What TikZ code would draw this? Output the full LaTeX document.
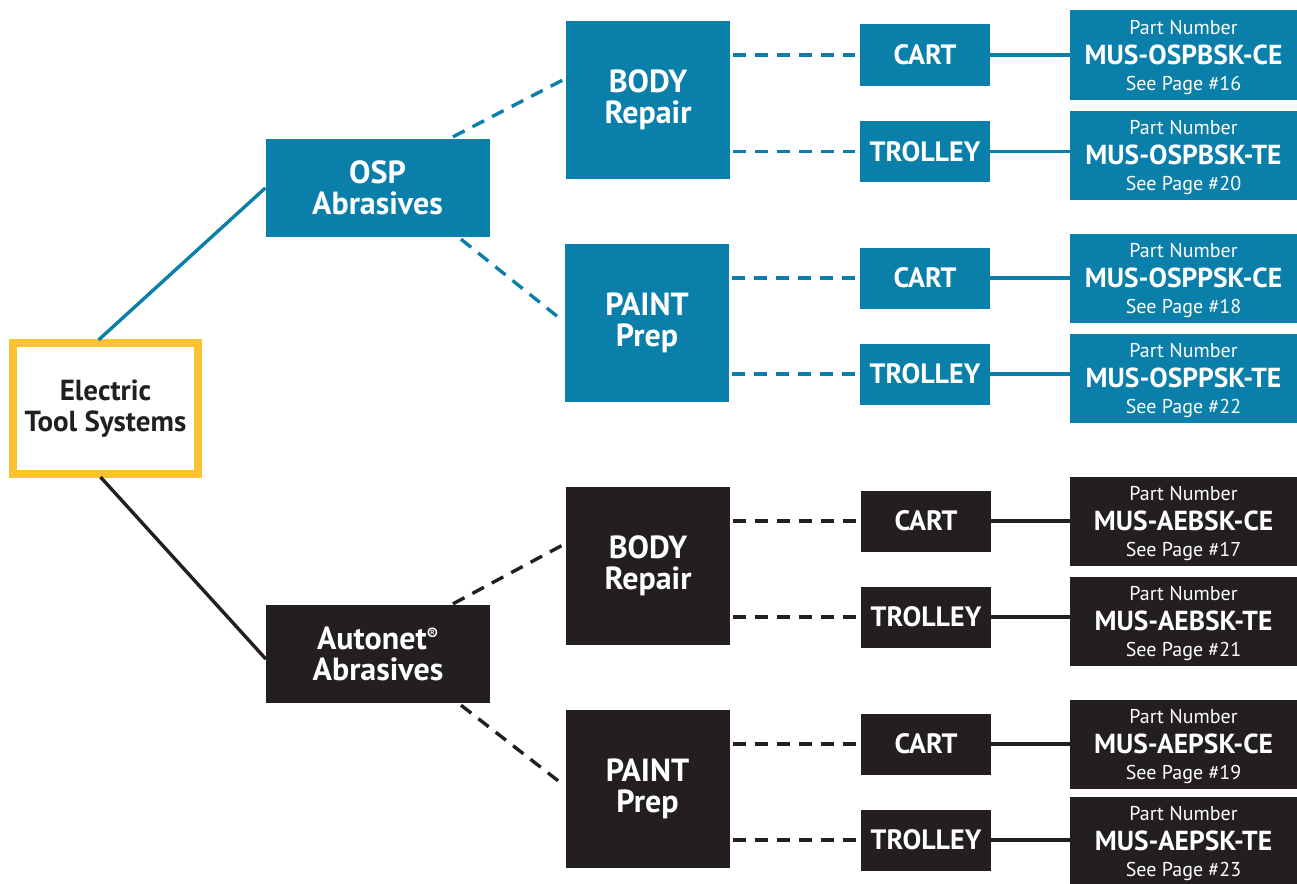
\documentclass[tikz,border=0pt]{standalone}
\usepackage{fontspec}
\setmainfont{PT Sans}
\usetikzlibrary{calc}
\definecolor{ospblue}{HTML}{0A7FAA}
\definecolor{dark}{HTML}{231F20}
\definecolor{gold}{HTML}{FBC232}
\tikzset{
  box/.style={inner sep=0pt, align=center, text=white, font=\bfseries\fontsize{32}{31}\selectfont},
  bluebox/.style={box, fill=ospblue},
  darkbox/.style={box, fill=dark},
  mid/.style={minimum width=164pt, minimum height=158pt},
  top/.style={minimum width=224pt, minimum height=98pt},
  kind/.style={minimum width=130pt, minimum height=61pt, font=\bfseries\fontsize{28}{28}\selectfont},
  part/.style={minimum width=227pt, minimum height=89pt, font=\fontsize{20}{28}\selectfont},
  dashline/.style={line width=3.4pt, dash pattern=on 13pt off 9pt},
  solidline/.style={line width=3.4pt},
}
\newcommand{\partlabel}[2]{\rule{0pt}{19pt}Part Number\\[2pt]{\bfseries\fontsize{27.5}{28}\selectfont #1}\\[-2pt]See Page \##2}
\begin{document}
\begin{tikzpicture}[x=1pt,y=-1pt]
\useasboundingbox (0,0) rectangle (1297,883);
% root
\node[draw=gold, line width=8pt, fill=white, minimum width=185pt, minimum height=131pt, inner sep=0pt, align=center, text=dark, font=\bfseries\fontsize{29}{31}\selectfont] (root) at (105.5,408.5) {Electric\\Tool Systems};
% level 1
\node[bluebox, top] (osp) at (377.5,188) {OSP\\Abrasives};
\node[darkbox, top] (aut) at (378,654) {Autonet\textsuperscript{\fontsize{17}{17}\selectfont ®}\\Abrasives};
% level 2
\node[bluebox, mid] (b1) at (648,100) {BODY\\Repair};
\node[bluebox, mid] (p1) at (647,323) {PAINT\\Prep};
\node[darkbox, mid] (b2) at (648,566) {BODY\\Repair};
\node[darkbox, mid] (p2) at (647.5,789) {PAINT\\Prep};
% level 3
\node[bluebox, kind] (c1) at (925,55) {CART};
\node[bluebox, kind] (t1) at (925,151.5) {TROLLEY};
\node[bluebox, kind] (c2) at (925,278) {CART};
\node[bluebox, kind] (t2) at (925,374) {TROLLEY};
\node[darkbox, kind] (c3) at (926,521) {CART};
\node[darkbox, kind] (t3) at (926,617) {TROLLEY};
\node[darkbox, kind] (c4) at (926,744) {CART};
\node[darkbox, kind] (t4) at (926,840) {TROLLEY};
% part numbers
\node[bluebox, part] (n1) at (1183.5,55) {\partlabel{MUS-OSPBSK-CE}{16}};
\node[bluebox, part] (n2) at (1183.5,155.5) {\partlabel{MUS-OSPBSK-TE}{20}};
\node[bluebox, part] (n3) at (1183.5,278) {\partlabel{MUS-OSPPSK-CE}{18}};
\node[bluebox, part] (n4) at (1183.5,378) {\partlabel{MUS-OSPPSK-TE}{22}};
\node[darkbox, part] (n5) at (1183.5,521.5) {\partlabel{MUS-AEBSK-CE}{17}};
\node[darkbox, part] (n6) at (1183.5,621.5) {\partlabel{MUS-AEBSK-TE}{21}};
\node[darkbox, part] (n7) at (1183.5,744.5) {\partlabel{MUS-AEPSK-CE}{19}};
\node[darkbox, part] (n8) at (1183.5,841) {\partlabel{MUS-AEPSK-TE}{23}};
% root connectors
\draw[solidline, ospblue] ([xshift=-7pt,yshift=-1pt]root.north) -- (osp.west);
\draw[solidline, dark] ([xshift=-5pt,yshift=1pt]root.south) -- ([yshift=-5pt]aut.west);
% level1 -> level2
\draw[dashline, ospblue] ([xshift=75.5pt,yshift=2pt]osp.north) -- ([xshift=-3pt,yshift=20pt]b1.west);
\draw[dashline, ospblue] ([xshift=83.5pt,yshift=-2pt]osp.south) -- ([xshift=-3pt,yshift=3pt]p1.west);
\draw[dashline, dark] ([xshift=75pt,yshift=1pt]aut.north) -- ([xshift=-3pt,yshift=21pt]b2.west);
\draw[dashline, dark] ([xshift=83pt,yshift=-2pt]aut.south) -- ([xshift=-3pt,yshift=5pt]p2.west);
% level2 -> level3
\foreach \m/\k/\c in {b1/c1/ospblue, b1/t1/ospblue, p1/c2/ospblue, p1/t2/ospblue, b2/c3/dark, b2/t3/dark, p2/c4/dark, p2/t4/dark}{
  \draw[dashline, \c] ([xshift=3pt]\m.east |- \k.west) -- ([xshift=-5pt]\k.west);
}
% level3 -> part numbers
\foreach \k/\n/\c in {c1/n1/ospblue, t1/n2/ospblue, c2/n3/ospblue, t2/n4/ospblue, c3/n5/dark, t3/n6/dark, c4/n7/dark, t4/n8/dark}{
  \draw[solidline, \c] (\k.east) -- (\n.west |- \k.east);
}
\end{tikzpicture}
\end{document}
